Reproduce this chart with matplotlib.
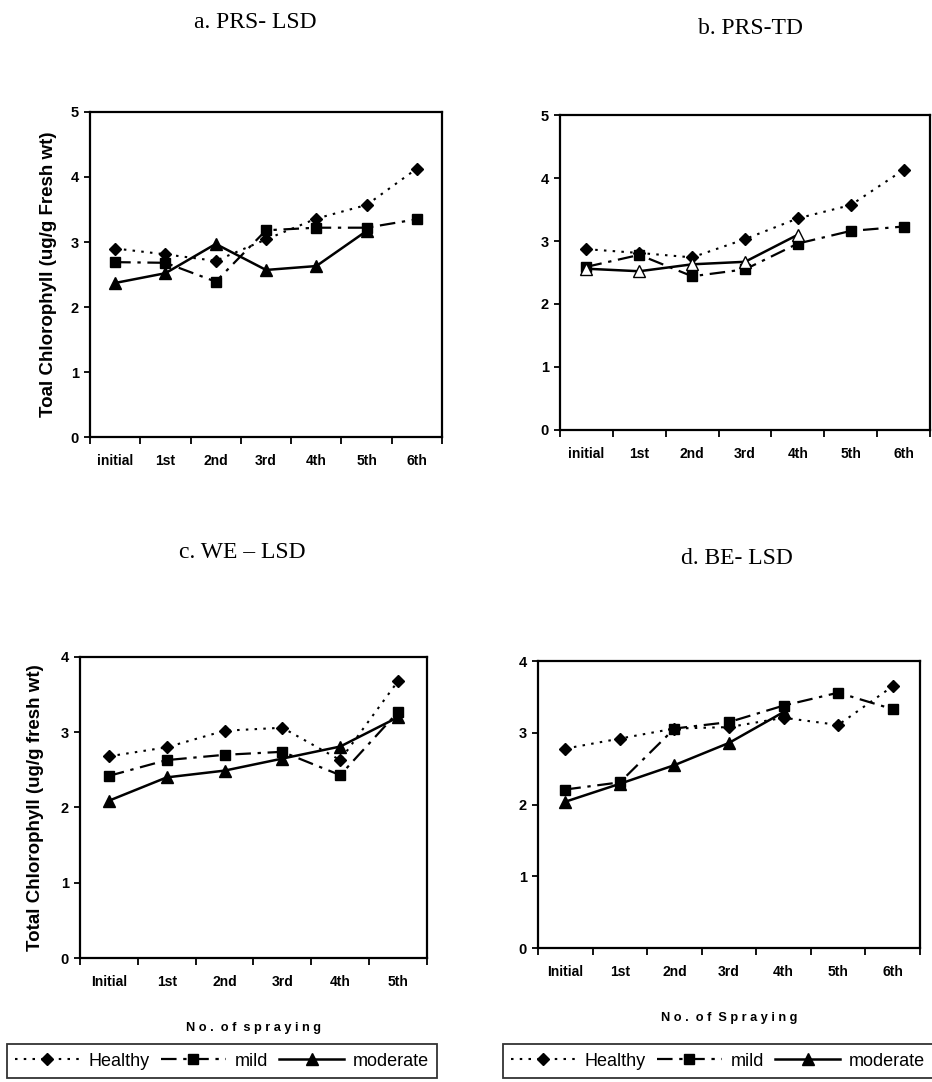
import matplotlib
matplotlib.use("Agg")
import matplotlib.pyplot as plt
from matplotlib.lines import Line2D
import numpy as np

# ---------------- data ----------------
cats_7 = ["initial", "1st", "2nd", "3rd", "4th", "5th", "6th"]
cats_7b = ["Initial", "1st", "2nd", "3rd", "4th", "5th", "6th"]
cats_6 = ["Initial", "1st", "2nd", "3rd", "4th", "5th"]

a_healthy = [2.90, 2.81, 2.71, 3.04, 3.36, 3.57, 4.13]
a_mild = [2.69, 2.68, 2.39, 3.18, 3.22, 3.22, 3.35]
a_moderate = [2.37, 2.52, 2.97, 2.57, 2.63, 3.17]

b_healthy = [2.87, 2.81, 2.74, 3.03, 3.36, 3.57, 4.13]
b_mild = [2.59, 2.78, 2.44, 2.55, 2.96, 3.16, 3.23]
b_moderate = [2.56, 2.52, 2.63, 2.67, 3.10]

c_healthy = [2.68, 2.80, 3.02, 3.06, 2.63, 3.68]
c_mild = [2.42, 2.63, 2.70, 2.74, 2.43, 3.27]
c_moderate = [2.09, 2.40, 2.49, 2.65, 2.81, 3.20]

d_healthy = [2.78, 2.92, 3.06, 3.08, 3.21, 3.11, 3.65]
d_mild = [2.21, 2.31, 3.06, 3.15, 3.38, 3.56, 3.33]
d_moderate = [2.04, 2.29, 2.55, 2.86, 3.29]

titles = ["a. PRS- LSD", "b. PRS-TD", "c. WE \u2013 LSD", "d. BE- LSD"]
ylab_a = "Toal Chlorophyll (ug/g Fresh wt)"
ylab_c = "Total Chlorophyll (ug/g fresh wt)"
xlab_c = "N o .  o f  s p r a y i n g"
xlab_d = "N o .  o f  S p r a y i n g"
series_names = ["Healthy", "mild", "moderate"]

# ---------------- styles ----------------
SANS = ["Liberation Sans", "DejaVu Sans"]
SERIF = ["Liberation Serif", "DejaVu Serif"]

st_h = dict(color="black", linestyle=(0, (1.2, 3)), linewidth=1.5,
            marker="D", markersize=6, markerfacecolor="black", markeredgecolor="black")
st_m = dict(color="black", linestyle=(0, (7, 3, 1.5, 3)), linewidth=1.6,
            marker="s", markersize=7.5, markerfacecolor="black", markeredgecolor="black")
st_t = dict(color="black", linestyle="-", linewidth=1.8,
            marker="^", markersize=8.5, markerfacecolor="black", markeredgecolor="black")

fig = plt.figure(figsize=(9.32, 10.82), dpi=100)

positions = {
    "a": [0.0966, 0.5961, 0.3777, 0.3004],
    "b": [0.6009, 0.6026, 0.3970, 0.2911],
    "c": [0.0858, 0.1146, 0.3723, 0.2782],
    "d": [0.5773, 0.1238, 0.4099, 0.2652],
}


def make_panel(key, cats, healthy, mild, moderate, ymax, open_tri=False):
    ax = fig.add_axes(positions[key])
    n = len(cats)
    x = np.arange(n)
    ax.plot(x[:len(healthy)], healthy, **st_h)
    ax.plot(x[:len(mild)], mild, **st_m)
    tri = dict(st_t)
    if open_tri:
        tri["markerfacecolor"] = "white"
    ax.plot(x[:len(moderate)], moderate, **tri)
    ax.set_xlim(-0.5, n - 0.5)
    ax.set_ylim(0, ymax)
    ax.set_yticks(range(0, ymax + 1))
    ax.set_xticks(x)
    ax.set_xticklabels(cats, fontfamily=SANS, fontweight="bold", fontsize=10)
    ax.set_xticks(np.arange(n + 1) - 0.5, minor=True)
    ax.tick_params(axis="x", which="major", length=0, pad=12)
    ax.tick_params(axis="x", which="minor", length=5, width=1.3, direction="out")
    ax.tick_params(axis="y", which="major", length=4, width=1.3, direction="out", pad=4)
    for lab in ax.get_yticklabels():
        lab.set_fontfamily(SANS)
        lab.set_fontweight("bold")
        lab.set_fontsize(10.5)
    for sp in ax.spines.values():
        sp.set_linewidth(1.6)
        sp.set_color("black")
    return ax


ax_a = make_panel("a", cats_7, a_healthy, a_mild, a_moderate, 5)
ax_b = make_panel("b", cats_7, b_healthy, b_mild, b_moderate, 5, open_tri=True)
ax_c = make_panel("c", cats_6, c_healthy, c_mild, c_moderate, 4)
ax_d = make_panel("d", cats_7b, d_healthy, d_mild, d_moderate, 4)

ax_a.set_ylabel(ylab_a, fontfamily=SANS, fontweight="bold", fontsize=13.5, labelpad=10)
ax_c.set_ylabel(ylab_c, fontfamily=SANS, fontweight="bold", fontsize=13.5, labelpad=12)
ax_c.set_xlabel(xlab_c, fontfamily=SANS, fontweight="bold", fontsize=9.2, labelpad=24)
ax_d.set_xlabel(xlab_d, fontfamily=SANS, fontweight="bold", fontsize=9.2, labelpad=24)

# titles
fig.text(255 / 932, 1 - 23 / 1082, titles[0], ha="center", va="center",
         fontfamily=SERIF, fontsize=17)
fig.text(750 / 932, 1 - 29 / 1082, titles[1], ha="center", va="center",
         fontfamily=SERIF, fontsize=17)
fig.text(242 / 932, 1 - 552 / 1082, titles[2], ha="center", va="center",
         fontfamily=SERIF, fontsize=17)
fig.text(737 / 932, 1 - 558 / 1082, titles[3], ha="center", va="center",
         fontfamily=SERIF, fontsize=17)

# legends
handles = [
    Line2D([], [], **st_h),
    Line2D([], [], **st_m),
    Line2D([], [], **st_t),
]
for cx in (222 / 932, 718 / 932):
    leg = fig.legend(handles, series_names, loc="center",
                     bbox_to_anchor=(cx, 1 - 1061 / 1082), ncol=3,
                     frameon=True, fancybox=False, edgecolor="black",
                     handlelength=3.6, handletextpad=0.5, columnspacing=0.6,
                     borderpad=0.45, prop={"family": SANS, "size": 13})
    leg.get_frame().set_linewidth(1.3)

fig.savefig("out.png", dpi=100)
